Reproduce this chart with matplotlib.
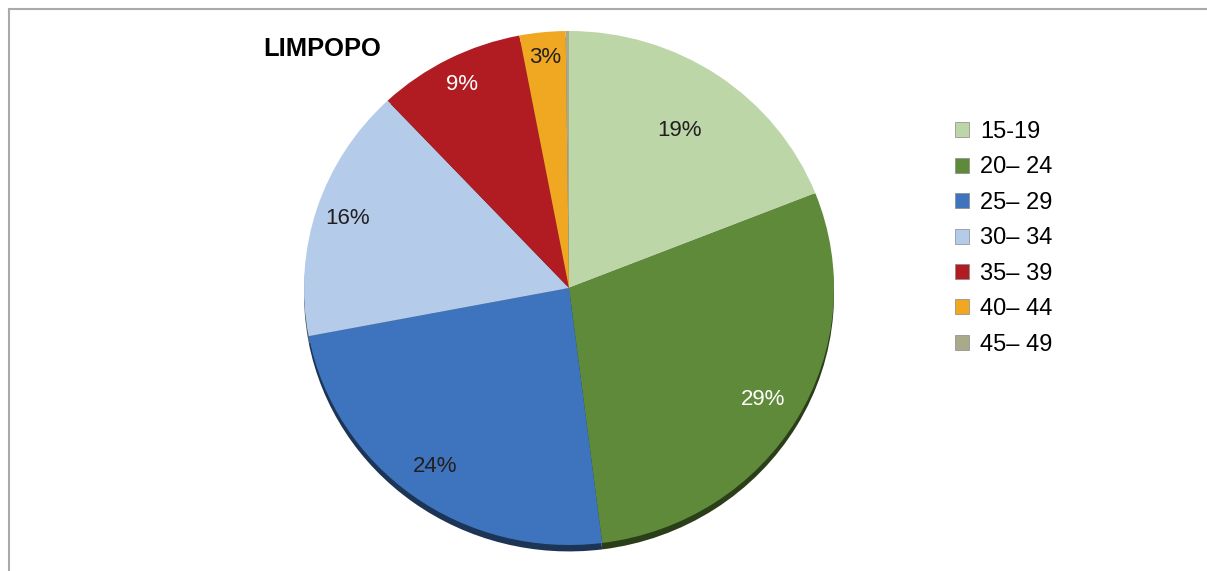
import numpy as np
import matplotlib
matplotlib.use('Agg')
import matplotlib.pyplot as plt
from matplotlib.patches import Patch
from matplotlib.lines import Line2D

plt.rcParams['font.family'] = ['Liberation Sans', 'DejaVu Sans']

# Age group shares, Limpopo
age_groups = ['15-19', '20\u2013 24', '25\u2013 29', '30\u2013 34', '35\u2013 39', '40\u2013 44', '45\u2013 49']
shares = [19, 29, 24, 16, 9, 2.8, 0.2]
pct_labels = ['19%', '29%', '24%', '16%', '9%', '3%', '']

colors = ['#bcd6a8', '#5f8a3a', '#3e74bd', '#b4cbe9', '#b01c22', '#f0a823', '#a9a98c']
label_colors = ['#231f20', 'white', '#231f20', '#231f20', 'white', '#231f20', '#231f20']
label_radius = [0.74, 0.85, 0.86, 0.88, 0.89, 0.90, 0.9]

W, H = 1207, 571
fig = plt.figure(figsize=(W / 100, H / 100), dpi=100)

# pie area in pixels
cx, cy, rx, ry = 569, 288, 265, 257
ax = fig.add_axes([(cx - rx) / W, (H - cy - ry) / H, 2 * rx / W, 2 * ry / H])

# darker copy underneath for the rim
dark = [tuple(c * 0.45 for c in matplotlib.colors.to_rgb(col)) for col in colors]
ax.pie(shares, colors=dark, startangle=90, counterclock=False, radius=1.0,
       center=(0, -0.025), wedgeprops=dict(linewidth=0))
wedges, _ = ax.pie(shares, colors=colors, startangle=90, counterclock=False,
                   radius=1.0, wedgeprops=dict(linewidth=0))
ax.set_aspect('auto')
ax.set_xlim(-1, 1)
ax.set_ylim(-1, 1)

for w, txt, col, r in zip(wedges, pct_labels, label_colors, label_radius):
    mid = np.deg2rad((w.theta1 + w.theta2) / 2)
    ax.text(r * np.cos(mid), r * np.sin(mid), txt, color=col, fontsize=16,
            ha='center', va='center')

fig.text(263 / W, 1 - 49 / H, 'LIMPOPO', fontsize=18.4, fontweight='bold',
         ha='left', va='center')

handles = [Patch(facecolor=c, edgecolor='#888888', linewidth=0.5) for c in colors]
fig.legend(handles, age_groups, loc='upper left', bbox_to_anchor=(955 / W, 1 - 121 / H),
           frameon=False, fontsize=17, handlelength=0.6, handleheight=0.6,
           handletextpad=0.45, labelspacing=0.57, borderpad=0, borderaxespad=0)

# frame lines of the original chart box
fig.add_artist(Line2D([9 / W, 1], [1 - 9 / H, 1 - 9 / H], color='#aaaaaa', lw=1.5))
fig.add_artist(Line2D([9 / W, 9 / W], [0, 1 - 9 / H], color='#aaaaaa', lw=1.5))

fig.savefig('out.png', dpi=100)
